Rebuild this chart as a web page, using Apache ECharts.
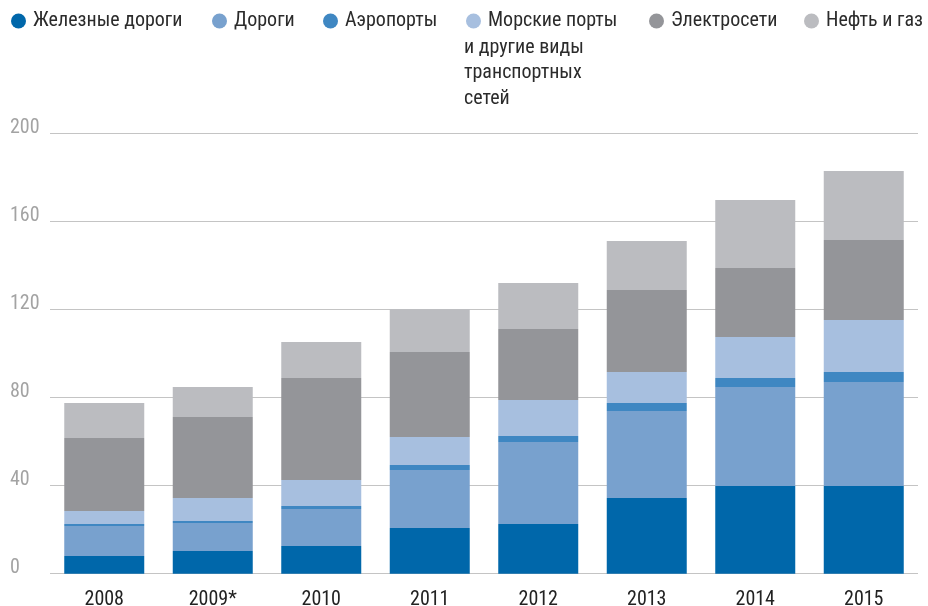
<!DOCTYPE html>
<html><head><meta charset="utf-8">
<script src="https://cdn.jsdelivr.net/npm/echarts@6/dist/echarts.min.js"></script>
<style>html,body{margin:0;padding:0;background:#fff}#c{width:928px;height:606px}</style>
</head><body><div id="c"></div>
<script>
var categories = ['2008','2009*','2010','2011','2012','2013','2014','2015'];
var rail     = [8.0, 10.3, 12.6, 20.8, 22.6, 34.4, 39.9, 39.9];
var roads    = [13.7, 12.7, 16.8, 26.3, 37.3, 39.6, 45.0, 47.2];
var airports = [0.9, 1.0, 1.4, 2.3, 2.7, 3.6, 4.1, 4.6];
var seaports = [5.9, 10.4, 11.8, 12.7, 16.4, 14.1, 18.6, 23.6];
var power    = [33.2, 36.8, 46.4, 38.7, 32.2, 37.3, 31.4, 36.4];
var oilgas   = [15.9, 13.7, 16.3, 19.4, 20.9, 22.2, 30.9, 31.3];
var yTicks = [0, 40, 80, 120, 160, 200];

var names = ['Железные дороги','Дороги','Аэропорты','Морские порты','Электросети','Нефть и газ'];
var colors = ['#0067AA','#78A1CE','#3F87C2','#A7BFDF','#949599','#BBBCC0'];
var values = [rail, roads, airports, seaports, power, oilgas];
var legendLeft = [11, 212, 323, 466, 649, 804];
var FONT = '"Roboto Condensed","Liberation Sans Narrow",Roboto,sans-serif';
var FS = 20;

var chart = echarts.init(document.getElementById('c'));
var series = names.map(function(n, i){
  return {
    name: n, type: 'bar', stack: 'total', barWidth: 80,
    itemStyle: {color: colors[i]},
    emphasis: {disabled: true},
    data: values[i]
  };
});
var legends = names.map(function(n, i){
  return {
    data: [n], left: legendLeft[i], top: 10, padding: 0,
    icon: 'circle', itemWidth: 15, itemHeight: 15, itemGap: 0,
    selectedMode: false,
    textStyle: {fontFamily: FONT, fontSize: FS, color: '#2b2b2b', lineHeight: 22, padding: [0,0,0,2]}
  };
});
chart.setOption({
  animation: false,
  textStyle: {fontFamily: FONT},
  legend: legends,
  graphic: [{
    type: 'text', left: 464, top: 35,
    style: {text: 'и другие виды\nтранспортных\nсетей', fontFamily: FONT, fontSize: FS, lineHeight: 25.5, fill: '#2b2b2b'}
  }],
  grid: {left: 50, right: 10, top: 133.7, bottom: 32.3, containLabel: false, outerBoundsMode: 'none'},
  xAxis: {
    type: 'category', data: categories,
    axisLine: {show: false}, axisTick: {show: false},
    axisLabel: {fontFamily: FONT, fontSize: FS, color: '#222222', margin: 16}
  },
  yAxis: {
    type: 'value', min: yTicks[0], max: yTicks[yTicks.length-1], interval: 40,
    axisLine: {show: false}, axisTick: {show: false},
    splitLine: {lineStyle: {color: '#C4C4C4', width: 1}},
    axisLabel: {fontFamily: FONT, fontSize: FS, color: '#A3A3A3', align: 'left', verticalAlign: 'bottom', lineHeight: 12, margin: 40, padding: 0}
  },
  series: series
});
</script></body></html>
